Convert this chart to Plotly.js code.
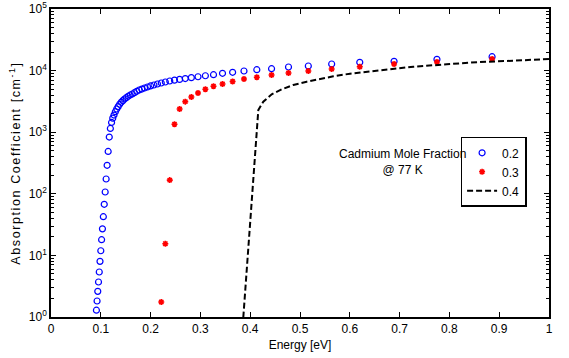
<!DOCTYPE html>
<html>
<head>
<meta charset="utf-8">
<script src="https://cdn.plot.ly/plotly-3.0.1.min.js"></script>
<style>
html,body{margin:0;padding:0;background:#fff;}
#chart{width:569px;height:358px;}
.ytitle{letter-spacing:1.6px;}
</style>
</head>
<body>
<div id="chart"></div>
<script>
// Cadmium mole fraction 0.2
var energy02 = [0.0912,0.0925,0.0939,0.0954,0.0969,0.0984,0.1000,0.1016,0.1033,0.1051,0.1069,0.1088,0.1107,0.1127,0.1148,0.1170,0.1192,0.1216,0.1240,0.1265,0.1292,0.1319,0.1348,0.1378,0.1409,0.1442,0.1476,0.1512,0.1550,0.1590,0.1632,0.1676,0.1722,0.1771,0.1824,0.1879,0.1938,0.2000,0.2067,0.2138,0.2214,0.2296,0.2385,0.2480,0.2583,0.2696,0.2818,0.2952,0.3100,0.3263,0.3444,0.3647,0.3875,0.4133,0.4429,0.4769,0.5167,0.5636,0.6200,0.6889,0.7750,0.8857];
var alpha02 = [1.29,1.82,2.61,3.70,5.38,8.0,11.9,18,27,42.5,67.5,107,174,290,487,834,1150,1440,1690,1900,2150,2380,2600,2840,3060,3250,3460,3630,3830,4020,4170,4380,4610,4840,5020,5220,5420,5630,5840,6060,6290,6530,6780,7000,7200,7430,7680,7950,8250,8580,9040,9380,9860,10350,10740,11440,11880,12800,13640,14160,15250,16820];

// Cadmium mole fraction 0.3
var energy03 = [0.2214,0.2296,0.2385,0.2480,0.2583,0.2696,0.2818,0.2952,0.3100,0.3263,0.3444,0.3647,0.3875,0.4133,0.4429,0.4769,0.5167,0.5636,0.6200,0.6889,0.7750,0.8857];
var alpha03 = [1.75,15.5,167,1344,2380,3130,3730,4330,4970,5560,6060,6650,7310,7790,8490,9140,9860,10620,11560,12800,13800,15420];

// Cadmium mole fraction 0.4
var energy04 = [0.3835,0.4163,0.4263,0.4432,0.4633,0.4865,0.5135,0.5468,0.5669,0.6004,0.6339,0.6673,0.7275,0.7946,0.8614,0.9283,1.0];
var alpha04 = [0.5,2290,3130,4130,4970,5840,6600,7500,8080,8910,9600,10350,11560,12650,13800,14490,15400];

var seriesNames = ['0.2','0.3','0.4'];
var xTickVals = [0,0.1,0.2,0.3,0.4,0.5,0.6,0.7,0.8,0.9,1];
var xTickText = ['0','0.1','0.2','0.3','0.4','0.5','0.6','0.7','0.8','0.9','1'];
var yTickVals = [1,10,100,1000,10000,100000];
var yTickText = ['10<sup>0</sup>','10<sup>1</sup>','10<sup>2</sup>','10<sup>3</sup>','10<sup>4</sup>','10<sup>5</sup>'];
var noteText = 'Cadmium Mole Fraction<br>@ 77 K';

var minorVals = [];
for (var d = 0; d < 5; d++) {
  for (var m = 2; m <= 9; m++) minorVals.push(m * Math.pow(10, d));
}

var font = 'Liberation Sans, Arial, Helvetica, sans-serif';

var traces = [
  {x: energy02, y: alpha02, name: seriesNames[0], type: 'scatter', mode: 'markers',
   marker: {symbol: 'circle-open', size: 6, color: '#0000ff', line: {color: '#0000ff', width: 1.2}}},
  {x: energy03, y: alpha03, name: seriesNames[1], type: 'scatter', mode: 'markers',
   marker: {symbol: 'asterisk-open', size: 5, color: '#ff0000', line: {color: '#ff0000', width: 1.6}}},
  {x: energy04, y: alpha04, name: seriesNames[2], type: 'scatter', mode: 'lines',
   line: {color: '#000000', width: 2, dash: '6px,3px'}}
];

var layout = {
  width: 569, height: 358,
  margin: {l: 51, r: 20, t: 9, b: 41},
  paper_bgcolor: '#ffffff', plot_bgcolor: '#ffffff',
  font: {family: font, size: 12, color: '#000'},
  showlegend: true,
  legend: {x: 0.955, y: 0.585, xanchor: 'right', yanchor: 'top',
    bgcolor: '#ffffff', bordercolor: '#000', borderwidth: 1.5,
    font: {family: font, size: 12, color: '#000'},
    itemwidth: 30, tracegroupgap: 0},
  xaxis: {
    range: [0, 1], tickmode: 'array', tickvals: xTickVals, ticktext: xTickText,
    ticks: 'inside', ticklen: 5, tickwidth: 1, tickcolor: '#000',
    showline: true, linecolor: '#000', linewidth: 1.8, mirror: 'ticks',
    showgrid: false, zeroline: false,
    tickfont: {family: font, size: 12, color: '#000'},
    title: {text: 'Energy [eV]', font: {family: font, size: 12, color: '#000'}, standoff: 5}
  },
  yaxis: {
    type: 'log', range: [0, 5], tickmode: 'array', tickvals: yTickVals, ticktext: yTickText,
    ticks: 'inside', ticklen: 5, tickwidth: 1, tickcolor: '#000',
    minor: {tickmode: 'array', tickvals: minorVals, ticks: 'inside', ticklen: 3, tickwidth: 1, tickcolor: '#000', showgrid: false},
    showline: true, linecolor: '#000', linewidth: 1.8, mirror: 'ticks',
    showgrid: false, zeroline: false,
    tickfont: {family: font, size: 12, color: '#000'},
    title: {text: 'Absorption Coefficient [cm<sup>-1</sup>]', font: {family: font, size: 12.5, color: '#000'}, standoff: 5}
  },
  annotations: [{
    xref: 'paper', yref: 'paper', x: 0.705, y: 0.503, xanchor: 'center', yanchor: 'middle',
    text: noteText, showarrow: false, align: 'center',
    font: {family: font, size: 12, color: '#000'}
  }]
};

Plotly.newPlot('chart', traces, layout, {staticPlot: true, displayModeBar: false});
</script>
</body>
</html>
